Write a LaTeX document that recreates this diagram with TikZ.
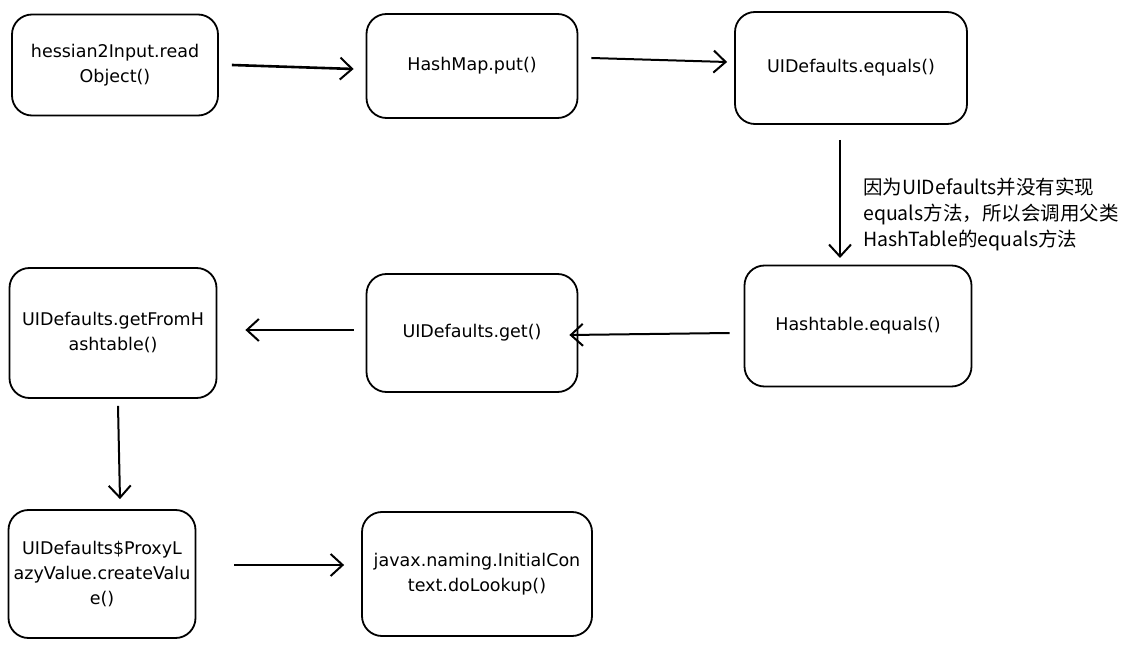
\documentclass[tikz,border=0pt]{standalone}
\usepackage{fontspec}
\setmainfont{DejaVu Sans}
\newfontfamily\cjk{Noto Sans CJK SC}
\usetikzlibrary{arrows.meta}
\begin{document}
\begin{tikzpicture}[x=1pt,y=-1pt,
  box/.style={draw=black,line width=1.8pt,rounded corners=20pt,align=center,font=\fontsize{17.5}{25}\selectfont,inner sep=0pt},
  arr/.style={line width=2pt,-{Straight Barb[length=12pt,width=22pt,line width=2pt]}}]
\useasboundingbox (0,0) rectangle (1136,647);
\node[box,minimum width=206pt,minimum height=101pt] (a) at (115,65) {hessian2Input.read\\Object()};
\node[box,minimum width=211pt,minimum height=104pt] (b) at (472,66) {HashMap.put()};
\node[box,minimum width=232pt,minimum height=112pt] (c) at (851,68) {UIDefaults.equals()};
\node[box,minimum width=227pt,minimum height=121pt] (d) at (858,326) {Hashtable.equals()};
\node[box,minimum width=211pt,minimum height=118pt] (e) at (472,333) {UIDefaults.get()};
\node[box,minimum width=207pt,minimum height=130pt] (f) at (113,333) {UIDefaults.getFromH\\ashtable()};
\node[box,minimum width=187pt,minimum height=128pt] (g) at (102,574) {UIDefaults\$ProxyL\\azyValue.createValu\\e()};
\node[box,minimum width=230pt,minimum height=124pt] (h) at (477,574) {javax.naming.InitialCon\\text.doLookup()};
\coordinate (c1) at (840,140);
\coordinate (c2) at (840,258);
\draw[arr,line width=2.6pt] ([xshift=13pt]a.east) -- ([xshift=-12pt,yshift=-3pt]b.west);
\draw[arr] ([xshift=13pt,yshift=8pt]b.east) -- ([xshift=-7pt,yshift=6pt]c.west);
\draw[arr] (c1) -- (c2);
\draw[arr] ([xshift=-14pt,yshift=-7pt]d.west) -- ([xshift=-9pt,yshift=-2pt]e.east);
\draw[arr] ([xshift=-12pt,yshift=3pt]e.west) -- ([xshift=28pt,yshift=3pt]f.east);
\draw[arr] ([xshift=5pt,yshift=-7pt]f.south) -- ([xshift=18pt,yshift=10pt]g.north);
\draw[arr] ([xshift=38pt,yshift=9pt]g.east) -- ([xshift=-17pt,yshift=9pt]h.west);
\node[anchor=north west,align=left,font=\cjk\fontsize{19.5}{26}\selectfont,inner sep=0pt] (t) at (863,178) {因为UIDefaults并没有实现\\equals方法，所以会调用父类\\HashTable的equals方法};
\end{tikzpicture}
\end{document}
